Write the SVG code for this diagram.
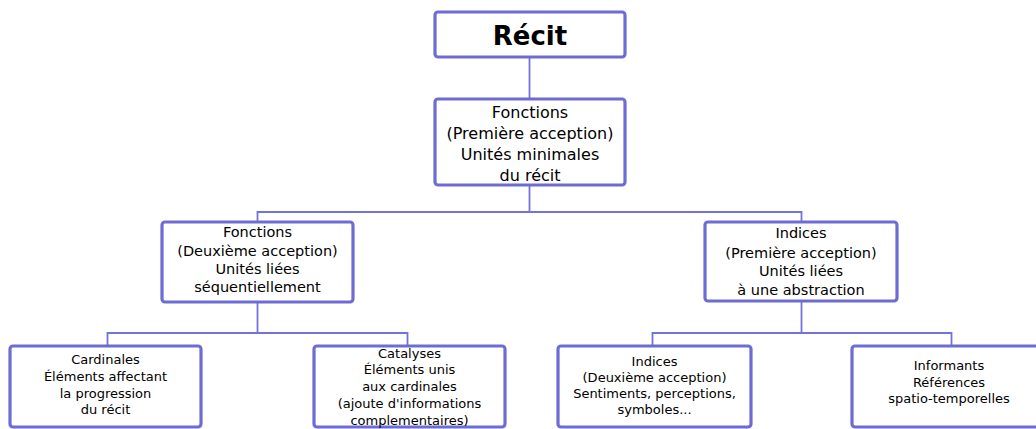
<svg xmlns="http://www.w3.org/2000/svg" width="1036" height="429" viewBox="0 0 1036 429">
<style>
.box{fill:#fff;stroke:#6c6cd4;stroke-width:3.2}
.ln{fill:none;stroke:#7272d8;stroke-width:1.8}
text{font-family:"DejaVu Sans",sans-serif;fill:#000;text-anchor:middle;dominant-baseline:central}
.t0{font-size:26px;font-weight:bold}
.t1{font-size:16px}
.t2{font-size:14.5px}
.t3{font-size:13px}
</style>
<rect width="1036" height="429" fill="#fff"/>
<g id="connectors">
<path class="ln" d="M529.5 58V99"/>
<path class="ln" d="M529.5 185V212M257.5 221V212H801.5V222"/>
<path class="ln" d="M257.5 302V333M107.5 346V333H407.5V346"/>
<path class="ln" d="M801.5 301V333M652.5 346V333H951.5V346"/>
</g>
<g id="recit">
<rect class="box" x="435" y="12" width="190" height="45" rx="3"/>
<text class="t0" x="530" y="36">Récit</text>
</g>
<g id="fonctions1">
<rect class="box" x="435" y="99" width="190" height="86" rx="3"/>
<text class="t1" x="530" y="112">Fonctions</text>
<text class="t1" x="530" y="133">(Première acception)</text>
<text class="t1" x="530" y="154">Unités minimales</text>
<text class="t1" x="530" y="175">du récit</text>
</g>
<g id="fonctions2">
<rect class="box" x="162" y="222" width="191" height="80" rx="3"/>
<text class="t2" x="257.5" y="232">Fonctions</text>
<text class="t2" x="257.5" y="251">(Deuxième acception)</text>
<text class="t2" x="257.5" y="269">Unités liées</text>
<text class="t2" x="257.5" y="287">séquentiellement</text>
</g>
<g id="indices1">
<rect class="box" x="705" y="222" width="192" height="79" rx="3"/>
<text class="t2" x="801" y="233">Indices</text>
<text class="t2" x="801" y="253">(Première acception)</text>
<text class="t2" x="801" y="271">Unités liées</text>
<text class="t2" x="801" y="290">à une abstraction</text>
</g>
<g id="cardinales">
<rect class="box" x="10" y="346" width="191" height="81" rx="3"/>
<text class="t3" x="105.5" y="359">Cardinales</text>
<text class="t3" x="105.5" y="376">Éléments affectant</text>
<text class="t3" x="105.5" y="393">la progression</text>
<text class="t3" x="105.5" y="409">du récit</text>
</g>
<g id="catalyses">
<rect class="box" x="314" y="346" width="191" height="81" rx="3"/>
<text class="t3" x="409.5" y="353">Catalyses</text>
<text class="t3" x="409.5" y="369">Éléments unis</text>
<text class="t3" x="409.5" y="386">aux cardinales</text>
<text class="t3" x="409.5" y="403">(ajoute d'informations</text>
<text class="t3" x="409.5" y="420">complementaires)</text>
</g>
<g id="indices2">
<rect class="box" x="558" y="346" width="193" height="81" rx="3"/>
<text class="t3" x="654.5" y="361">Indices</text>
<text class="t3" x="654.5" y="377">(Deuxième acception)</text>
<text class="t3" x="654.5" y="393">Sentiments, perceptions,</text>
<text class="t3" x="654.5" y="409">symboles...</text>
</g>
<g id="informants">
<rect class="box" x="852" y="346" width="194" height="81" rx="3"/>
<text class="t3" x="949" y="365">Informants</text>
<text class="t3" x="949" y="382">Références</text>
<text class="t3" x="949" y="398">spatio-temporelles</text>
</g>
</svg>
